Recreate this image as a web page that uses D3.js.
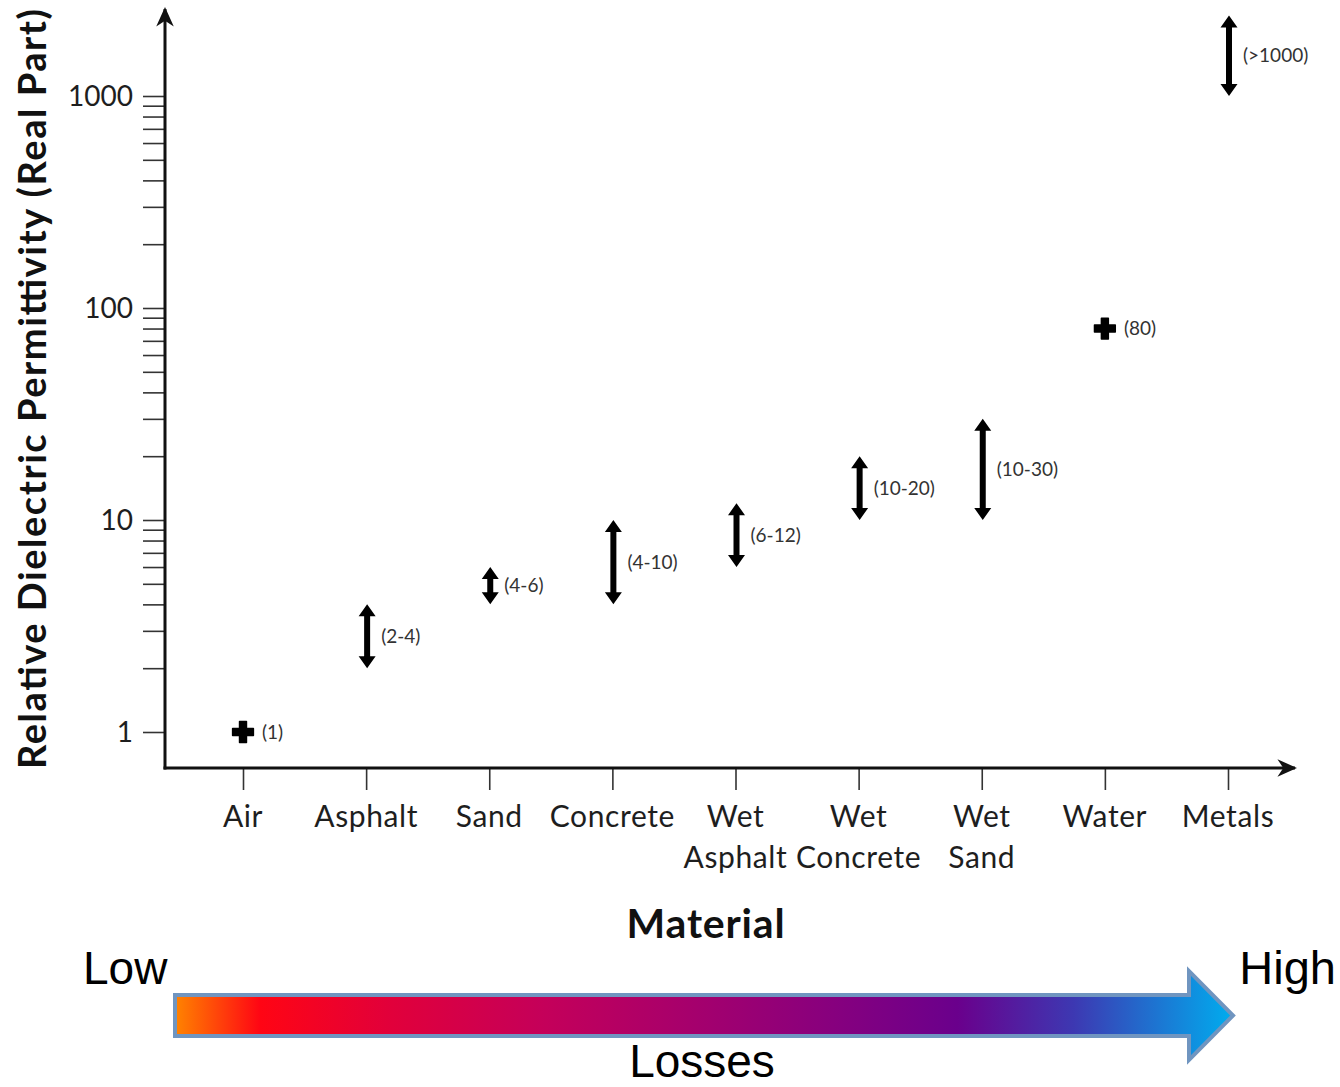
<!DOCTYPE html>
<html>
<head>
<meta charset="utf-8">
<script src="https://cdn.jsdelivr.net/npm/d3@7"></script>
<style>
  html, body { margin: 0; padding: 0; background: #fff; }
  svg { display: block; }
</style>
</head>
<body>
<div id="chart"></div>
<script>
// ---------- data ----------
const categories = ["Air", "Asphalt", "Sand", "Concrete", "Wet Asphalt", "Wet Concrete", "Wet Sand", "Water", "Metals"];
const categoryLines = [["Air"], ["Asphalt"], ["Sand"], ["Concrete"], ["Wet", "Asphalt"], ["Wet", "Concrete"], ["Wet", "Sand"], ["Water"], ["Metals"]];
const pointMaterials = ["Air", "Water"];
const pointValues = [1, 80];
const pointLabels = ["(1)", "(80)"];
const rangeMaterials = ["Asphalt", "Sand", "Concrete", "Wet Asphalt", "Wet Concrete", "Wet Sand", "Metals"];
const rangeLow = [2, 4, 4, 6, 10, 10, 1000];
const rangeHigh = [4, 6, 10, 12, 20, 30, 2400];
const rangeLabels = ["(2-4)", "(4-6)", "(4-10)", "(6-12)", "(10-20)", "(10-30)", "(>1000)"];
const yMajorTicks = [1, 10, 100, 1000];
const yTickLabels = ["1", "10", "100", "1000"];
const yMinorMultipliers = [2, 3, 4, 5, 6, 7, 8, 9];
const lossStops = [
  [0, "#ff8200"], [0.08, "#ff0514"], [0.2, "#e2003a"], [0.35, "#c4005a"],
  [0.5, "#a3006e"], [0.63, "#85007f"], [0.74, "#6a008c"], [0.85, "#3d38b2"], [1, "#00acee"]
];

// ---------- layout ----------
const W = 1340, H = 1087;
const svg = d3.select("#chart").append("svg").attr("width", W).attr("height", H);
const chartFont = "Lato, 'Open Sans', sans-serif";
const arialFont = "'Liberation Sans', Arial, sans-serif";

const x0 = 165, yAxisY = 768;
const y = d3.scaleLog().domain([1, 1000]).range([732, 96]);
const x = d3.scalePoint().domain(categories).range([243, 1228]);

const defs = svg.append("defs");
defs.append("marker").attr("id", "axArrow")
  .attr("viewBox", "0 0 10 10").attr("refX", 9).attr("refY", 5)
  .attr("markerWidth", 7).attr("markerHeight", 6.5).attr("markerUnits", "strokeWidth")
  .attr("orient", "auto")
  .append("path").attr("d", "M0,0.5 L10,5 L0,9.5 L3,5 Z").attr("fill", "#111");

// ---------- y axis ticks ----------
const minorTicks = [];
[1, 10, 100].forEach(d => yMinorMultipliers.forEach(m => minorTicks.push(d * m)));
const allTicks = yMajorTicks.concat(minorTicks).sort((a, b) => a - b);

const yAxis = d3.axisLeft(y).tickValues(allTicks).tickSize(22).tickPadding(10)
  .tickFormat(d => { const i = yMajorTicks.indexOf(d); return i >= 0 ? yTickLabels[i] : ""; });
const gy = svg.append("g").attr("transform", `translate(${x0},0)`).call(yAxis);
gy.select(".domain").remove();
gy.selectAll(".tick line").attr("stroke", "#333").attr("stroke-width", 1.6);
gy.selectAll(".tick text").attr("font-family", chartFont).attr("font-size", 28).attr("fill", "#1e1e1e").attr("dy", "0.34em");

// ---------- x axis ticks ----------
const xAxis = d3.axisBottom(x).tickSize(22).tickFormat("");
const gx = svg.append("g").attr("transform", `translate(0,${yAxisY})`).call(xAxis);
gx.select(".domain").remove();
gx.selectAll(".tick line").attr("stroke", "#333").attr("stroke-width", 1.6);

const catLabels = svg.append("g").selectAll("text").data(categories).join("text")
  .attr("x", d => x(d)).attr("y", 827)
  .attr("text-anchor", "middle").attr("font-family", chartFont).attr("font-size", 30)
  .attr("letter-spacing", 0.6).attr("fill", "#1e1e1e");
catLabels.each(function(d, i) {
  const t = d3.select(this);
  categoryLines[i].forEach((ln, j) => {
    t.append("tspan").attr("x", x(d)).attr("dy", j === 0 ? 0 : 41).text(ln);
  });
});

// ---------- axis lines ----------
svg.append("line").attr("x1", x0).attr("y1", yAxisY + 1.5).attr("x2", x0).attr("y2", 9)
  .attr("stroke", "#111").attr("stroke-width", 3).attr("marker-end", "url(#axArrow)");
svg.append("line").attr("x1", x0 - 1.5).attr("y1", yAxisY).attr("x2", 1295).attr("y2", yAxisY)
  .attr("stroke", "#111").attr("stroke-width", 3).attr("marker-end", "url(#axArrow)");

// ---------- axis titles ----------
svg.append("text").attr("transform", `translate(46,389) rotate(-90)`)
  .attr("text-anchor", "middle").attr("font-family", chartFont).attr("font-weight", "bold")
  .attr("font-size", 38).attr("fill", "#111")
  .attr("textLength", 760).attr("lengthAdjust", "spacing")
  .text("Relative Dielectric Permittivity (Real Part)");
svg.append("text").attr("x", 706).attr("y", 938)
  .attr("text-anchor", "middle").attr("font-family", chartFont).attr("font-weight", "bold")
  .attr("font-size", 41).attr("letter-spacing", 0.8).attr("fill", "#111").text("Material");

// ---------- range arrows ----------
function dblArrow(cx, yTop, yBot) {
  const hw = 8.5, hl = 12, sw = 3;
  return `M${cx},${yTop} L${cx + hw},${yTop + hl} L${cx + sw},${yTop + hl} L${cx + sw},${yBot - hl} L${cx + hw},${yBot - hl} ` +
         `L${cx},${yBot} L${cx - hw},${yBot - hl} L${cx - sw},${yBot - hl} L${cx - sw},${yTop + hl} L${cx - hw},${yTop + hl} Z`;
}
const rangeData = rangeMaterials.map((m, i) => ({ m, lo: rangeLow[i], hi: rangeHigh[i], label: rangeLabels[i] }));
const rg = svg.append("g");
rg.selectAll("path").data(rangeData).join("path")
  .attr("d", d => dblArrow(x(d.m) + 1, y(d.hi), y(d.lo)))
  .attr("fill", "#000");
rg.selectAll("text").data(rangeData).join("text")
  .attr("x", d => x(d.m) + 15)
  .attr("y", d => y(Math.sqrt(d.lo * d.hi)))
  .attr("dy", "0.35em")
  .attr("font-family", chartFont).attr("font-size", 19).attr("fill", "#333")
  .text(d => d.label);

// ---------- point markers ----------
const pointData = pointMaterials.map((m, i) => ({ m, v: pointValues[i], label: pointLabels[i] }));
const pg = svg.append("g");
pg.selectAll("path").data(pointData).join("path")
  .attr("transform", d => `translate(${x(d.m)},${y(d.v)})`)
  .attr("d", d3.symbol().type(d3.symbolCross).size(240))
  .attr("fill", "#000").attr("stroke", "#000").attr("stroke-width", 1.5).attr("stroke-linejoin", "round");
pg.selectAll("text").data(pointData).join("text")
  .attr("x", d => x(d.m) + 19).attr("y", d => y(d.v)).attr("dy", "0.35em")
  .attr("font-family", chartFont).attr("font-size", 19).attr("fill", "#333")
  .text(d => d.label);

// ---------- losses arrow ----------
const grad = defs.append("linearGradient").attr("id", "lossGrad")
  .attr("gradientUnits", "userSpaceOnUse").attr("x1", 176).attr("x2", 1232).attr("y1", 0).attr("y2", 0);
grad.selectAll("stop").data(lossStops).join("stop")
  .attr("offset", d => d[0]).attr("stop-color", d => d[1]);

const ax0 = 175, ayTop = 995, ayBot = 1036, headX = 1189, headTop = 971, headBot = 1060, tipX = 1233;
const ayMid = (ayTop + ayBot) / 2;
svg.append("path")
  .attr("d", `M${ax0},${ayTop} L${headX},${ayTop} L${headX},${headTop} L${tipX},${ayMid} L${headX},${headBot} L${headX},${ayBot} L${ax0},${ayBot} Z`)
  .attr("fill", "url(#lossGrad)").attr("stroke", "#7095c0").attr("stroke-width", 4).attr("stroke-linejoin", "miter");

svg.append("text").attr("x", 83).attr("y", 984).attr("font-family", arialFont).attr("font-size", 46).attr("fill", "#000").text("Low");
svg.append("text").attr("x", 1336).attr("y", 984).attr("text-anchor", "end").attr("font-family", arialFont).attr("font-size", 47).attr("fill", "#000").text("High");
svg.append("text").attr("x", 702).attr("y", 1077).attr("text-anchor", "middle").attr("font-family", arialFont).attr("font-size", 46).attr("fill", "#000").text("Losses");
</script>
</body>
</html>
